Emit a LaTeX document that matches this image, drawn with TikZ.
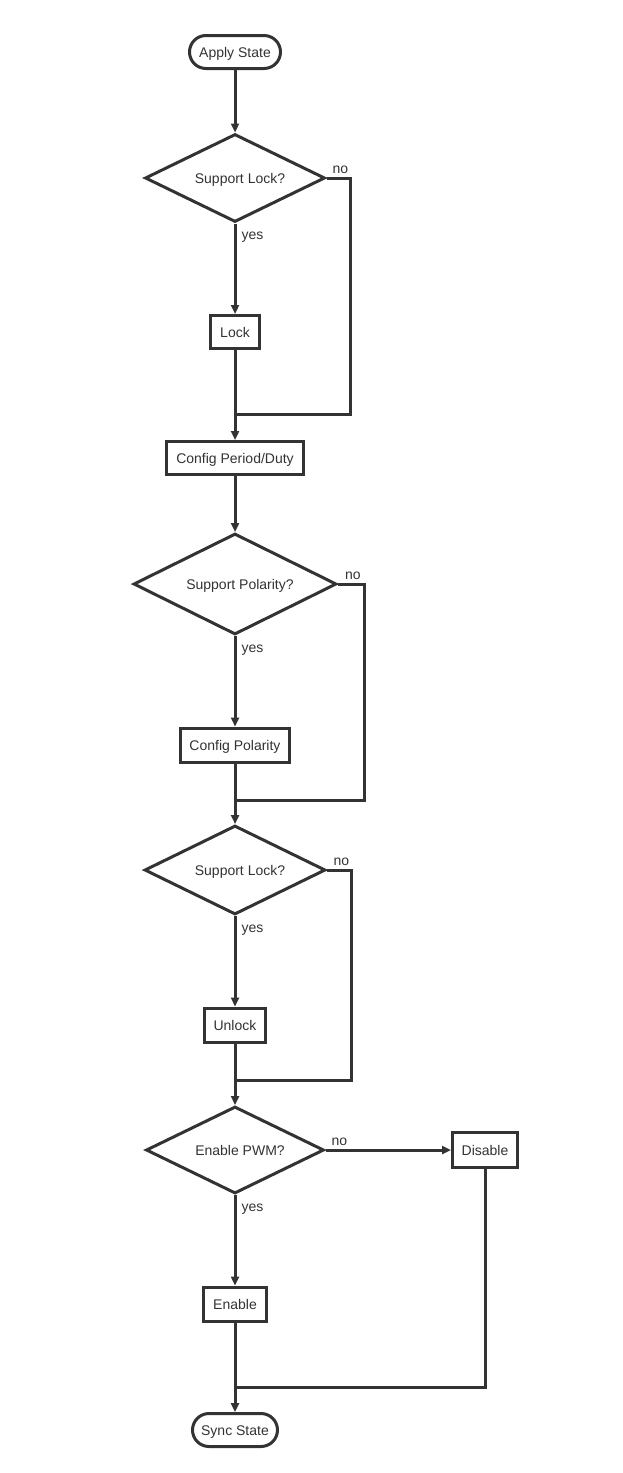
\documentclass[tikz,border=0pt]{standalone}
\usepackage{fontspec}
\setmainfont{Liberation Sans}
\usetikzlibrary{shapes.geometric,arrows.meta}
\definecolor{ink}{HTML}{333333}
\tikzset{
  base/.style={draw=ink,line width=3pt,text=ink,font=\fontsize{14}{16}\selectfont,inner sep=0pt,fill=white,text height=10pt,text depth=0pt},
  term/.style={base,rectangle,rounded corners=16.5pt},
  proc/.style={base,rectangle},
  dec/.style={base,diamond,aspect=2,execute at begin node={\hspace*{10pt}}},
  conn/.style={draw=ink,line width=3pt,line join=miter},
  arr/.style={conn,-{Triangle[length=9pt,width=8pt]}},
  lbl/.style={text=ink,font=\fontsize{14}{16}\selectfont,inner sep=0pt,anchor=base west}
}
\begin{document}
\begin{tikzpicture}[x=1pt,y=-1pt,line width=3pt]
\useasboundingbox (0,0) rectangle (622,1473);
\node[term,minimum width=91pt,minimum height=33pt] (start) at (235,52) {Apply State};
\node[dec,minimum width=180pt,minimum height=88pt] (d1) at (235,178) {Support Lock?};
\node[proc,minimum width=49pt,minimum height=33pt] (lock) at (235,332) {Lock};
\node[proc,minimum width=137pt,minimum height=33pt] (cfg) at (235,458) {Config Period/Duty};
\node[dec,minimum width=203pt,minimum height=101pt] (d2) at (235,584) {Support Polarity?};
\node[proc,minimum width=109pt,minimum height=34pt] (pol) at (235,745) {Config Polarity};
\node[dec,minimum width=181pt,minimum height=89pt] (d3) at (235,870) {Support Lock?};
\node[proc,minimum width=61pt,minimum height=34pt] (unlock) at (235,1025) {Unlock};
\node[dec,minimum width=178pt,minimum height=87pt] (d4) at (235,1150) {Enable PWM?};
\node[proc,minimum width=65pt,minimum height=35pt] (dis) at (485,1150) {Disable};
\node[proc,minimum width=63pt,minimum height=34pt] (en) at (235,1304) {Enable};
\node[term,minimum width=85pt,minimum height=33pt] (sync) at (235,1430) {Sync State};

\coordinate (r1) at (350.5,178);
\coordinate (j1) at (235,414);
\coordinate (r2) at (364,584);
\coordinate (j2) at (235,800);
\coordinate (r3) at (351,870);
\coordinate (j3) at (235,1080);
\coordinate (j4) at (235,1387);

\draw[arr] (start) -- (d1);
\draw[arr] (d1) -- (lock);
\draw[arr] (lock) -- (cfg);
\draw[conn] (d1.east) -- (r1) |- (j1);
\draw[arr] (cfg) -- (d2);
\draw[arr] (d2) -- (pol);
\draw[arr] (pol) -- (d3);
\draw[conn] (d2.east) -- (r2) |- (j2);
\draw[arr] (d3) -- (unlock);
\draw[arr] (unlock) -- (d4);
\draw[conn] (d3.east) -- (r3) |- (j3);
\draw[arr] (d4) -- (dis);
\draw[arr] (d4) -- (en);
\draw[arr] (en) -- (sync);
\draw[conn] (dis.south) |- (j4);

\node[lbl] (no1) at (331,173.3) {no};
\node[lbl] (yes1) at (240,239) {yes};
\node[lbl] (no2) at (343.5,579.3) {no};
\node[lbl] (yes2) at (240,652) {yes};
\node[lbl] (no3) at (332,865.3) {no};
\node[lbl] (yes3) at (240,932) {yes};
\node[lbl] (no4) at (330,1145.3) {no};
\node[lbl] (yes4) at (240,1211) {yes};
\end{tikzpicture}
\end{document}
